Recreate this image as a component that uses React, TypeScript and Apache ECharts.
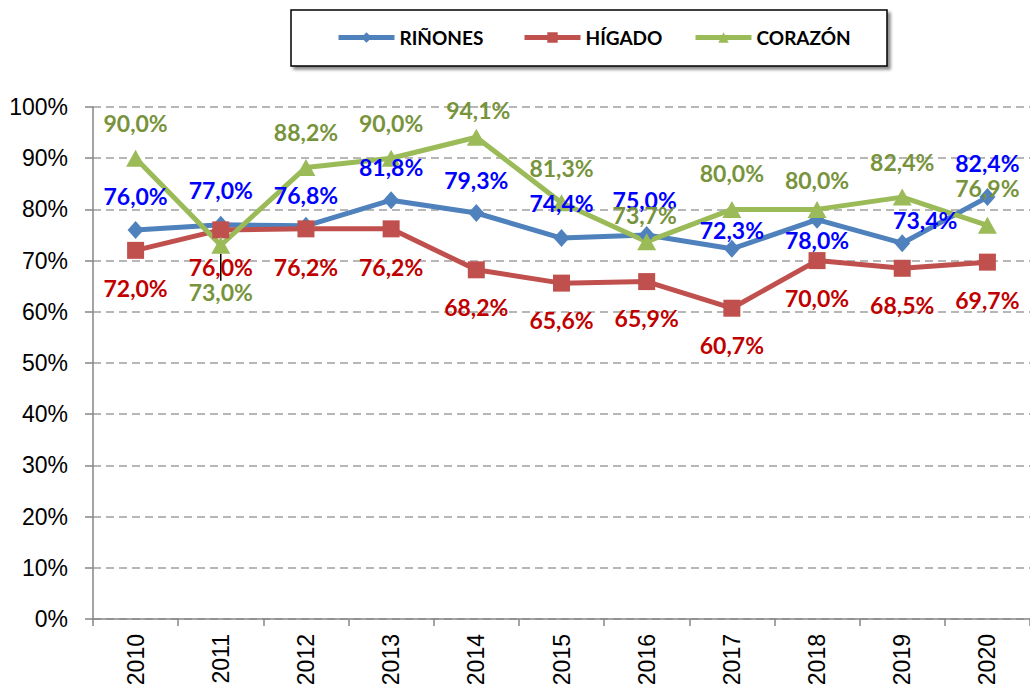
import React, { useEffect, useRef } from "react";
import * as echarts from "echarts";

const years = ["2010", "2011", "2012", "2013", "2014", "2015", "2016", "2017", "2018", "2019", "2020"];
const rinones = [76.0, 77.0, 76.8, 81.8, 79.3, 74.4, 75.0, 72.3, 78.0, 73.4, 82.4];
const higado = [72.0, 76.0, 76.2, 76.2, 68.2, 65.6, 65.9, 60.7, 70.0, 68.5, 69.7];
const corazon = [90.0, 73.0, 88.2, 90.0, 94.1, 81.3, 73.7, 80.0, 80.0, 82.4, 76.9];

// label offsets (px) relative to each point
const rinonesDy = [-34, -35, -31, -33, -33, -35, -35, -19, 20, -23, -34];
const rinonesDx = [0, 0, 0, 0, 0, 0, -2, 0, 0, 23, 0];
const higadoDy = [38, 37, 38, 38, 37, 37, 36, 37, 37, 37, 38];
const corazonDy = [-35, 47, -35, -35, -27, -35, -27, -36, -29, -35, -37];
const corazonDx = [0, 0, 0, 0, 2, 0, -2, 0, 0, 0, 0];

const fmt = (v: number) => v.toFixed(1).replace(".", ",") + "%";
const labelFont = "Lato";

export default function App() {
  const ref = useRef<HTMLDivElement>(null);
  useEffect(() => {
    if (!ref.current) return;
    const chart = echarts.init(ref.current, undefined, { renderer: "svg" });
    const offsets: Record<number, { dx: number[]; dy: number[] }> = {
      0: { dx: rinonesDx, dy: rinonesDy },
      1: { dx: higadoDy.map(() => 0), dy: higadoDy },
      2: { dx: corazonDx, dy: corazonDy },
    };
    const mkLabel = (color: string) => ({
      show: true,
      position: "inside",
      color,
      fontFamily: labelFont,
      fontWeight: "bold",
      fontSize: 23,
      formatter: (p: any) => fmt(p.value),
    });
    const legendCommon = {
      top: 28,
      padding: 0,
      itemWidth: 56,
      itemHeight: 13,
      itemGap: 5,
      lineStyle: { width: 5 },
      textStyle: { fontFamily: labelFont, fontWeight: "bold", fontSize: 19, color: "#000" },
      selectedMode: false,
    };
    chart.setOption({
      animation: false,
      backgroundColor: "#fff",
      graphic: [
        {
          type: "rect",
          shape: { x: 291, y: 10, width: 596, height: 56 },
          style: {
            fill: "#fff",
            stroke: "#000",
            lineWidth: 1.5,
            shadowColor: "rgba(0,0,0,0.45)",
            shadowOffsetX: 3,
            shadowOffsetY: 3,
            shadowBlur: 3,
          },
          z: -1,
        },
      ],
      legend: [
        { ...legendCommon, left: 336, data: ["RIÑONES"] },
        { ...legendCommon, left: 522, data: ["HÍGADO"] },
        { ...legendCommon, left: 693, data: ["CORAZÓN"] },
      ],
      grid: { left: 93, right: -8, top: 107, bottom: 74 },
      xAxis: {
        type: "category",
        data: years,
        boundaryGap: true,
        axisLine: { lineStyle: { color: "#868686", width: 1.5 } },
        axisTick: { show: true, length: 7, lineStyle: { color: "#868686", width: 1.5 } },
        axisLabel: {
          rotate: 90,
          margin: 15,
          fontFamily: "Liberation Sans",
          fontSize: 23,
          color: "#000",
        },
      },
      yAxis: {
        type: "value",
        min: 0,
        max: 100,
        interval: 10,
        axisLine: { show: true, lineStyle: { color: "#868686", width: 1.5 } },
        axisTick: { show: true, length: 8, lineStyle: { color: "#868686", width: 1.5 } },
        axisLabel: {
          formatter: "{value}%",
          margin: 25,
          fontFamily: "Liberation Sans",
          fontSize: 23,
          color: "#000",
        },
        splitLine: { lineStyle: { color: "#a0a0a0", width: 1.5, type: [8, 5] } },
      },
      series: [
        {
          name: "RIÑONES",
          type: "line",
          data: rinones,
          symbol: "diamond",
          symbolSize: [16, 18],
          lineStyle: { color: "#4F81BD", width: 5 },
          itemStyle: { color: "#4F81BD" },
          label: mkLabel("#0000FF"),
        },
        {
          name: "HÍGADO",
          type: "line",
          data: higado,
          symbol: "rect",
          symbolSize: 17,
          lineStyle: { color: "#C0504D", width: 5 },
          itemStyle: { color: "#C0504D" },
          label: mkLabel("#C00000"),
        },
        {
          name: "CORAZÓN",
          type: "line",
          data: corazon.map((v, i) =>
            i === 1
              ? { value: v, labelLine: { show: true, lineStyle: { color: "#000", width: 1.5 } } }
              : v
          ),
          symbol: "triangle",
          symbolSize: [19, 17],
          lineStyle: { color: "#9BBB59", width: 5 },
          itemStyle: { color: "#9BBB59" },
          label: mkLabel("#77933C"),
        },
      ],
      labelLayout: (params: any) => {
        const o = offsets[params.seriesIndex];
        if (!o) return {};
        return { dx: o.dx[params.dataIndex] || 0, dy: o.dy[params.dataIndex] || 0 };
      },
    });
    return () => chart.dispose();
  }, []);
  return (
    <div
      ref={ref}
      style={{ position: "fixed", left: 0, top: 0, width: 1030, height: 693 }}
    />
  );
}
